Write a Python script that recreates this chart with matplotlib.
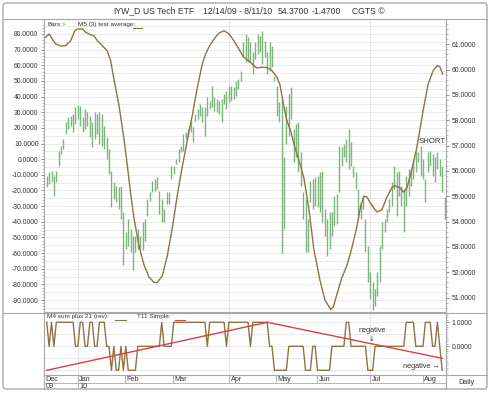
import matplotlib
matplotlib.use("Agg")
import matplotlib.pyplot as plt
from matplotlib.patches import FancyBboxPatch
from matplotlib.ticker import MultipleLocator, FixedLocator, FormatStrFormatter

plt.rcParams['font.family'] = ['Liberation Sans', 'DejaVu Sans']

# ---------------- data ----------------
bar_high = [55.82, 55.95, 56.01, 55.82, 56.01, 56.80, 57.00, 57.26, 57.92, 58.12,
            58.18, 58.25, 58.51, 58.60, 58.58, 58.12, 58.45, 58.32, 58.18, 57.92,
            58.32, 58.25, 58.32, 58.25, 57.79, 57.33, 56.87, 56.01, 55.55, 55.42,
            55.36, 55.42, 54.37,
            53.58, 54.11, 53.71, 53.45, 53.45, 53.71, 53.45, 53.97, 54.11, 54.89,
            55.16, 55.62, 55.68, 55.75, 55.22, 54.89, 54.50, 55.16, 55.16, 56.21,
            56.21, 56.47, 56.87, 57.00, 57.46, 57.53, 57.66, 57.92, 57.72, 58.25,
            58.45, 58.64,
            58.51, 58.51, 58.91, 58.78, 59.37, 58.91, 58.84, 58.78, 58.84, 59.04,
            59.17, 59.37, 59.37, 59.30, 59.57, 59.63, 59.96, 61.08, 61.41, 61.28,
            61.08, 60.68, 61.08, 61.41, 61.34, 61.54, 61.14, 60.68, 61.08, 60.95,
            59.76, 59.37, 58.71,
            58.90,
            56.54, 58.58, 59.04, 59.30, 57.66, 57.86, 57.92, 56.74, 55.16, 54.89,
            54.11, 55.62, 55.68, 55.75, 55.82, 55.95, 56.01, 54.50, 54.11, 54.37,
            54.37, 55.03, 55.09, 57.00, 56.93, 57.07, 57.26, 57.66, 57.13, 56.21,
            55.95, 55.29, 54.76, 55.03,
            54.11, 53.05, 52.00, 51.61, 51.34, 52.00, 53.05, 53.97, 54.11, 54.50,
            54.89, 55.55, 56.21, 55.95, 56.01, 55.42, 55.29, 55.82, 56.08, 56.08,
            56.34, 56.74, 56.74, 57.00, 56.47, 55.68, 56.74, 56.80, 56.67, 56.54,
            56.74, 56.47, 56.21, 54.96]
bar_low = [55.36, 55.49, 55.55, 55.03, 55.55, 56.21, 56.67, 56.87, 57.46, 57.66,
           57.79, 57.53, 57.86, 58.05, 57.79, 57.53, 57.66, 57.79, 57.33, 56.93,
           57.26, 57.46, 57.07, 57.00, 56.87, 56.47, 55.88, 54.57, 54.90, 54.76,
           54.50, 54.10, 52.30,
           52.92, 53.05, 52.79, 52.07, 52.79, 52.92, 52.92, 52.86, 53.25, 54.24,
           54.83, 55.16, 55.22, 55.29, 54.30, 53.97, 53.97, 54.70, 54.70, 55.68,
           55.88, 56.28, 56.34, 56.74, 56.80, 57.26, 57.39, 57.53, 57.13, 57.99,
           58.05, 58.18,
           57.92, 57.39, 58.18, 58.45, 58.51, 58.38, 58.32, 58.25, 57.92, 58.64,
           58.45, 58.71, 58.78, 58.84, 58.97, 59.24, 59.57, 60.49, 60.29, 60.29,
           60.29, 59.83, 60.42, 60.62, 60.68, 60.22, 60.49, 59.83, 59.96, 60.09,
           59.57, 58.18, 57.92,
           52.75,
           53.71, 57.07, 57.39, 58.05, 56.34, 56.54, 55.95, 55.42, 54.11, 52.79,
           52.79, 54.76, 54.50, 54.63, 54.57, 54.37, 53.97, 53.45, 52.66, 52.92,
           53.45, 53.84, 53.91, 55.16, 56.21, 56.54, 56.34, 56.08, 56.21, 55.75,
           55.29, 54.11, 54.11, 54.50,
           52.79, 51.61, 50.95, 50.49, 50.68, 51.08, 51.61, 52.92, 53.58, 53.97,
           54.37, 54.63, 55.29, 54.24, 55.03, 54.63, 53.58, 54.63, 55.03, 55.42,
           55.68, 55.95, 56.34, 55.82, 55.68, 54.76, 55.95, 56.21, 55.82, 55.55,
           56.08, 55.82, 55.16, 54.10]

osc_pos = [-0.4, 1.0, 2.3, 3.8, 5.8, 7.9, 10.0, 11.7, 12.8, 14.9, 16.3, 18.4, 19.7,
           21.1, 23.2, 25.3, 26.7, 28.1, 30.2, 32.3, 33.6, 35.0, 36.4, 38.5, 40.6,
           42.7, 44.8, 46.1, 48.2, 50.3, 52.4, 54.5, 56.6, 58.7, 60.7, 62.8, 64.9,
           66.3, 67.7, 69.8, 71.9, 74.0, 76.1, 78.1, 80.2, 82.0, 84.8, 87.6, 89.4,
           91.8, 93.9, 96.0, 97.3, 98.7, 100.1, 101.8, 103.6, 105.7, 107.3, 109.4,
           111.5, 114.0, 116.1, 118.5, 119.6, 121.0, 123.1, 125.2, 127.2, 129.3,
           131.0, 132.4, 133.6, 135.6, 137.7, 139.8, 141.8, 143.9, 145.3, 147.4,
           148.9, 150.3, 152.3, 154.4, 155.7, 157.1, 159.1, 161.2, 163.0, 164.1, 165.2]
osc_val = [77.9, 80.0, 76.8, 73.6, 72.3, 72.5, 75.7, 81.9, 83.2, 83.2, 81.1, 79.4, 78.9,
           75.7, 72.5, 69.1, 62.8, 50.6, 34.0, 12.3, -3.7, -21.6, -37.6, -55.5, -67.6,
           -75.3, -78.8, -78.8, -74.6, -61.9, -44.0, -22.9, -4.4, 12.3, 27.6, 45.5, 60.8,
           67.2, 71.7, 76.8, 80.6, 82.1, 80.0, 75.7, 70.4, 65.5, 62.1, 58.3, 58.7,
           58.6, 56.7, 52.5, 47.7, 35.9, 25.1, 18.0, 7.2, -3.1, -12.0, -31.8,
           -58.0, -77.2, -90.0, -96.0, -94.4, -86.8, -75.9, -68.2, -57.4, -44.0,
           -29.9, -23.5, -24.2, -29.3, -33.7, -32.5, -24.8, -18.4, -16.8, -18.4,
           -21.0, -18.4, -6.9, 7.2, 18.7, 31.4, 47.7, 56.4, 59.9, 58.9, 54.4]

m4_val = [1, 0, 1, 0, 1, 1, 1, 1, 1, 1,
          1, 1, 0, 0, 1, 1, 0, 0, 1, 1,
          0, 0, 1, 1, 1, 0, 0, -1, 0, -1,
          -1, 0, -1, 0, -1, -1, -1, -1, 0, 0,
          0, 0, 0, 0, 0, 0, 0, 0, 1, 0,
          0, 0, 0, 1, 1, 1, 1, 1, 1, 1,
          1, 1, 1, 1, 1, 1, 1, 0, 1, 1,
          1, 1, 1, 1, 1, 0, 1, 1, 1, 1,
          1, 1, 1, 1, 1, 0, 1, 1, 1, 1,
          1, 1, 1, 0, 0, -1, -1, -1, -1, -1,
          -1, 0, 0, 0, 0, 0, 0, 0, -1, -1,
          -1, 0, 0, -1, -1, -1, -1, -1, -1, 0,
          0, 0, 0, 0, 0, 1, 1, 0, 0, 0,
          0, 0, 0, 0, -1, -1, -1, 0, 0, 0,
          0, 0, 0, 0, 0, 0, 0, 0, 0, 0,
          1, 1, 1, 1, 0, 0, 0, 0, 1, 1,
          1, 0, 0, 1, 0, -1]

t11_pos = [0, 92, 165]
t11_val = [-1.0, 1.0, -0.5]

month_labels = ['Dec', 'Jan', 'Feb', 'Mar', 'Apr', 'May', 'Jun', 'Jul', 'Aug']
month_pos = [-1.1, 12.9, 32.7, 52.8, 76.2, 95.7, 112.9, 134.9, 156.9]
year_labels = ['09', '10']
year_pos = [-1.1, 12.9]
quarter_pos = [12.9, 76.2, 134.9]

left_ticks = [80, 70, 60, 50, 40, 30, 20, 10, 0, -10, -20, -30, -40, -50, -60, -70, -80, -90]
right_ticks = [51, 52, 53, 54, 55, 56, 57, 58, 59, 60, 61]
low_ticks = [0, 1]

title_parts = ['IYW_D', 'US Tech ETF', '12/14/09 - 8/11/10', '54.3700', '-1.4700', 'CGTS \u00a9']
title_x = [113, 143, 203, 278, 312, 352]

# ---------------- style ----------------
BAR = '#7db37d'
BROWN = '#8f7245'
RED = '#d8433b'
GRID = '#e6e6e6'
FRAME = '#a8a8a8'
TXT = '#333333'
XLIM = (-1.13, 166.6)

W, H = 490, 393
fig = plt.figure(figsize=(W / 100, H / 100), dpi=100)


def rect(x0, y0, x1, y1):
    return [x0 / W, 1 - y1 / H, (x1 - x0) / W, (y1 - y0) / H]


# main panel: left-scale grid axes
ax = fig.add_axes(rect(44, 19, 446, 312))
ax.set_xlim(*XLIM)
ax.set_ylim(-97.64, 89.58)
for v in range(-95, 90, 5):
    ax.axhline(v, color=GRID, lw=0.6, zorder=0)
for q in quarter_pos:
    ax.axvline(q, color=GRID, lw=0.8, zorder=0)
ax.yaxis.set_major_locator(FixedLocator(left_ticks))
ax.yaxis.set_minor_locator(MultipleLocator(2))
ax.yaxis.set_major_formatter(FormatStrFormatter('%.4f'))
ax.tick_params(axis='y', which='major', labelsize=4.9, colors='#666666', labelcolor=TXT,
               length=2.5, width=0.5, pad=1.5)
ax.tick_params(axis='y', which='minor', length=1.2, width=0.4, colors='#888888')
ax.set_xticks([])
for s in ax.spines.values():
    s.set_color(FRAME)
    s.set_linewidth(0.8)

# bars on the right scale
axr = ax.twinx()
axr.set_xlim(*XLIM)
axr.set_ylim(50.43, 62.0)
idx = list(range(len(bar_high)))
axr.vlines(idx, bar_low, bar_high, color=BAR, lw=1.0)
axr.yaxis.set_major_locator(FixedLocator(right_ticks))
axr.yaxis.set_minor_locator(MultipleLocator(0.2))
axr.yaxis.set_major_formatter(FormatStrFormatter('%.4f'))
axr.tick_params(axis='y', which='major', labelsize=4.9, colors='#666666', labelcolor=TXT,
                length=2.5, width=0.5, pad=1.5)
axr.tick_params(axis='y', which='minor', length=1.2, width=0.4, colors='#888888')
for s in axr.spines.values():
    s.set_visible(False)
axr.text(155.3, 57.18, 'SHORT', fontsize=5.6, color=TXT, va='center', ha='left')

# oscillator line on the left scale (on top of bars)
axo = ax.twinx()
axo.set_xlim(*XLIM)
axo.set_ylim(-97.64, 89.58)
axo.plot(osc_pos, osc_val, color=BROWN, lw=1.0)
axo.set_yticks([])
axo.set_xticks([])
for s in axo.spines.values():
    s.set_visible(False)

# lower panel
ax2 = fig.add_axes(rect(44, 312.7, 446, 375))
ax2.set_xlim(*XLIM)
ax2.set_ylim(-1.196, 1.40)
for v in [-1.0, -0.5, 0.0, 0.5, 1.0]:
    ax2.axhline(v, color=GRID, lw=0.6, zorder=0)
for q in quarter_pos:
    ax2.axvline(q, color=GRID, lw=0.8, zorder=0)
ax2.plot(list(range(len(m4_val))), m4_val, color=BROWN, lw=1.0)
ax2.plot(t11_pos, t11_val, color=RED, lw=1.0)
ax2.yaxis.tick_right()
ax2.yaxis.set_major_locator(FixedLocator(low_ticks))
ax2.yaxis.set_minor_locator(MultipleLocator(0.1))
ax2.yaxis.set_major_formatter(FormatStrFormatter('%.4f'))
ax2.tick_params(axis='y', which='major', labelsize=4.9, colors='#666666', labelcolor=TXT,
                length=2.5, width=0.5, pad=1.5)
ax2.tick_params(axis='y', which='minor', length=1.2, width=0.4, colors='#888888')
ax2.set_xticks(month_pos)
ax2.set_xticklabels([])
ax2.xaxis.set_minor_locator(MultipleLocator(1))
ax2.tick_params(axis='x', which='major', length=2, width=0.5, colors='#888888')
ax2.tick_params(axis='x', which='minor', length=1.0, width=0.3, colors='#999999')
for s in ax2.spines.values():
    s.set_color(FRAME)
    s.set_linewidth(0.8)
ax2.text(129.9, 0.65, 'negative', fontsize=5.3, color=TXT, ha='left', va='center')
ax2.text(135.6, 0.30, '\u2193', fontsize=5.0, color=TXT, ha='center', va='center',
         family=['DejaVu Sans'])
ax2.text(148.6, -0.86, 'negative \u2192', fontsize=5.3, color=TXT, ha='left', va='center',
         family=['Liberation Sans', 'DejaVu Sans'])

# date label rows
ax3 = fig.add_axes(rect(44, 375, 446, 389))
ax3.set_xlim(*XLIM)
ax3.set_ylim(1, 0)
ax3.axis('off')
ax3.vlines(month_pos, 0, 0.57, color=FRAME, lw=0.6)
ax3.vlines(year_pos, 0.57, 1, color=FRAME, lw=0.6)
ax3.axhline(0.57, color=FRAME, lw=0.6)
for p, lab in zip(month_pos, month_labels):
    ax3.text(p + 0.6, 0.3, lab, fontsize=5.2, color=TXT, ha='left', va='center')
for p, lab in zip(year_pos, year_labels):
    ax3.text(p + 0.6, 0.8, lab, fontsize=5.2, color=TXT, ha='left', va='center')

# overlay for frame, title and legends
ov = fig.add_axes([0, 0, 1, 1])
ov.set_xlim(0, W)
ov.set_ylim(H, 0)
ov.axis('off')
ov.add_patch(FancyBboxPatch((3, 3), 484, 386, boxstyle='round,pad=0,rounding_size=3',
                            fill=False, ec=FRAME, lw=1.0))
ov.plot([3, 487], [19, 19], color=FRAME, lw=0.8)
ov.plot([3, 487], [312.7, 312.7], color=FRAME, lw=0.8)
ov.plot([446, 487], [375, 375], color=FRAME, lw=0.8)
ov.plot([446, 446], [375, 389], color=FRAME, lw=0.8)
ov.plot([44, 44], [375, 389], color=FRAME, lw=0.8)
for tx, tt in zip(title_x, title_parts):
    ov.text(tx, 11, tt, fontsize=6.2, color=TXT, ha='left', va='center')
ov.text(466.5, 382, 'Daily', fontsize=5.2, color=TXT, ha='center', va='center')

ov.text(47, 24.5, 'Bars:', fontsize=4.6, color=TXT, ha='left', va='center')
ov.text(62, 24.5, 'I-', fontsize=4.6, color='#4f9a4f', ha='left', va='center')
ov.text(78, 24.5, 'M5 (3) test average:', fontsize=4.6, color=TXT, ha='left', va='center')
ov.plot([133, 142], [27.5, 27.5], color=BROWN, lw=0.8)
ov.text(47, 316.8, 'M4 sum plus 21 (rev):', fontsize=4.6, color=TXT, ha='left', va='center')
ov.plot([115, 126], [319.5, 319.5], color=BROWN, lw=0.8)
ov.text(137, 316.8, 'T11 Simple:', fontsize=4.6, color=TXT, ha='left', va='center')
ov.plot([175, 185], [319.5, 319.5], color=RED, lw=0.8)

fig.savefig('out.png', dpi=100)
